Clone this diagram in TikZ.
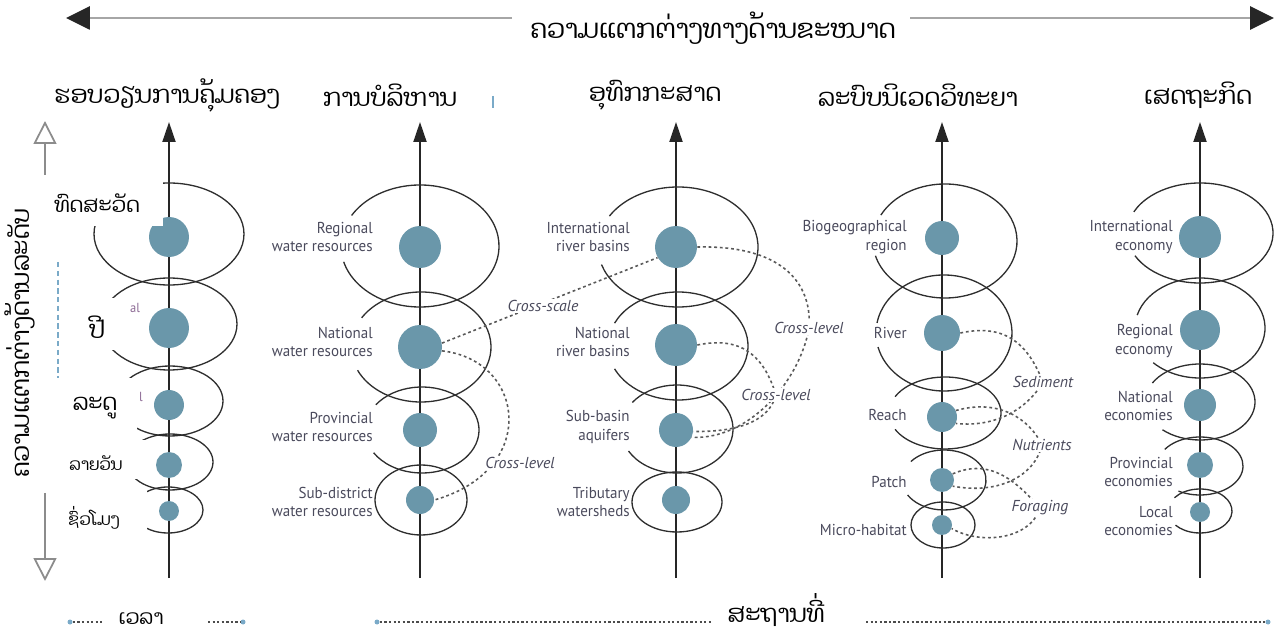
\documentclass[tikz,border=0pt]{standalone}
\usepackage{fontspec}
\setmainfont{PT Sans}
\newfontfamily\laofont[Script=Lao]{Dhyana}
\newfontfamily\lblfont[FakeStretch=0.95]{PT Sans}
\usetikzlibrary{arrows.meta}

\definecolor{lvlblue}{HTML}{6A97AA}
\definecolor{lblgray}{HTML}{4A4A5C}
\definecolor{ringgray}{HTML}{2E2E2E}
\definecolor{tickblue}{HTML}{7AAAC8}
\definecolor{fragpink}{HTML}{8C6A94}

\tikzset{
  lvl/.style={circle, fill=lvlblue, inner sep=0pt, minimum size=#1},
  ring/.style={ringgray, line width=0.75pt},
  lbl/.style={font=\lblfont\fontsize{9}{10.5}\selectfont, text=lblgray, align=right, anchor=east, inner sep=0pt},
  link/.style={black!65, line width=0.9pt, dash pattern=on 1.6pt off 1.6pt},
  linklbl/.style={font=\fontsize{9}{10}\selectfont\itshape, text=lblgray, fill=white, inner sep=1pt},
  laohead/.style={font=\laofont\fontsize{14}{17}\selectfont, inner sep=0pt},
  laolvl/.style={font=\laofont\fontsize{#1}{#1}\selectfont, inner sep=0pt},
  axis/.style={black!85, line width=1.1pt, -{Triangle[length=0.4cm, width=0.26cm]}},
  harr/.style={black!35, line width=1.6pt, -{Triangle[length=0.48cm, width=0.46cm, color=black!85]}},
  varr/.style={black!45, line width=1pt, -{Triangle[open, length=0.46cm, width=0.46cm, fill=white]}},
  tdot/.style={circle, fill=tickblue, inner sep=0pt, minimum size=0.1cm},
  tline/.style={black!70, line width=1.1pt, dash pattern=on 1.3pt off 1.3pt},
}

% open ellipse: centre, x radius, y radius, start angle, end angle
\newcommand\ringarc[5]{%
  \draw[ring] (#1) ++(#4:#2 and #3) arc[start angle=#4, end angle=#5, x radius=#2, y radius=#3];}

\begin{document}
\begin{tikzpicture}[x=0.02cm, y=-0.02cm]
  \useasboundingbox (0,0) rectangle (1288,634);

  % scale arrow and title
  \node[laohead, font=\laofont\fontsize{15}{18}\selectfont] (ttl) at (713,28) {ຄວາມແຕກຕ່າງທາງດ້ານຂະໜາດ};
  \coordinate (tlb) at (512,18);
  \coordinate (tl) at (66,18);
  \coordinate (trb) at (910,18);
  \coordinate (tr) at (1274,18);
  \draw[harr] (tlb) -- (tl);
  \draw[harr] (trb) -- (tr);

  % column heads
  \node[laohead] (h1) at (167,95) {ຮອບວຽນການຄຸ້ມຄອງ};
  \node[laohead] (h2) at (390,95) {ການບໍລິຫານ};
  \node[laohead] (h3) at (655,95) {ອຸທົກກະສາດ};
  \node[laohead] (h4) at (918,95) {ລະບົບນິເວດວິທະຍາ};
  \node[laohead] (h5) at (1198,95) {ເສດຖະກິດ};
  \draw[tickblue, line width=0.8pt] (493,96) -- (493,108);

  % level axes
  \foreach \n/\x in {1/169, 2/420, 3/676, 4/942, 5/1200} {
    \coordinate (a\n b) at (\x,578);
    \coordinate (a\n t) at (\x,122);
    \draw[axis] (a\n b) -- (a\n t);
  }

  % rings
  \draw[ring] (169,234) ellipse[x radius=75, y radius=51];
  \draw[ring] (169,324) ellipse[x radius=68, y radius=46];
  \draw[ring] (170,401) ellipse[x radius=53, y radius=35];
  \draw[ring] (170,462) ellipse[x radius=43, y radius=28];
  \draw[ring] (168,510) ellipse[x radius=35, y radius=23];

  \ringarc{420,246}{79}{61}{210}{525}
  \ringarc{421,347}{70}{55}{212}{515}
  \ringarc{422,430}{57}{43}{216}{508}
  \draw[ring] (421,500) ellipse[x radius=46, y radius=35];

  \ringarc{678,247}{80}{60}{211}{523}
  \ringarc{678,346}{70}{54}{205}{515}
  \ringarc{677,429}{56}{44}{217}{510}
  \draw[ring] (677,502) ellipse[x radius=45, y radius=30];

  \ringarc{945,241}{72}{57}{207}{525}
  \ringarc{944,333}{68}{58}{190}{526}
  \ringarc{945,413}{56}{36}{207}{513}
  \ringarc{944,480}{42}{30}{218}{510}
  \draw[ring] (943,525) ellipse[x radius=32, y radius=23];

  \ringarc{1200,233}{73}{50}{205}{513}
  \ringarc{1200,328}{65}{50}{195}{496}
  \ringarc{1200,402}{55}{38}{210}{493}
  \ringarc{1200,466}{43}{29}{215}{480}
  \ringarc{1200,511}{32}{22}{217}{500}

  % levels
  \node[lvl=0.8cm] (c11) at (169,237) {};
  \node[lvl=0.8cm] (c12) at (169,328) {};
  \node[lvl=0.6cm] (c13) at (169,405) {};
  \node[lvl=0.52cm] (c14) at (169,465) {};
  \node[lvl=0.4cm] (c15) at (169,511) {};

  \node[lvl=0.84cm] (c21) at (420,247) {};
  \node[lvl=0.88cm] (c22) at (420,347) {};
  \node[lvl=0.68cm] (c23) at (420,430) {};
  \node[lvl=0.56cm] (c24) at (420,500) {};

  \node[lvl=0.84cm] (c31) at (676,247) {};
  \node[lvl=0.84cm] (c32) at (676,345) {};
  \node[lvl=0.68cm] (c33) at (676,430) {};
  \node[lvl=0.56cm] (c34) at (676,500) {};

  \node[lvl=0.68cm] (c41) at (942,238) {};
  \node[lvl=0.72cm] (c42) at (942,333) {};
  \node[lvl=0.6cm] (c43) at (942,417) {};
  \node[lvl=0.48cm] (c44) at (942,480) {};
  \node[lvl=0.4cm] (c45) at (942,525) {};

  \node[lvl=0.84cm] (c51) at (1200,237) {};
  \node[lvl=0.8cm] (c52) at (1200,330) {};
  \node[lvl=0.64cm] (c53) at (1200,405) {};
  \node[lvl=0.52cm] (c54) at (1200,465) {};
  \node[lvl=0.4cm] (c55) at (1200,512) {};

  % time labels pasted over the first column
  \fill[white] (50,178) rectangle (163,226);
  \fill[white] (50,298) rectangle (126,350);
  \fill[white] (50,378) rectangle (137,432);
  \fill[white] (50,440) rectangle (150,479);
  \fill[white] (50,488) rectangle (147,531);
  \node[laolvl=12] (t1) at (97,203) {ທົດສະວັດ};
  \node[laolvl=14] (t2) at (97,327) {ປີ};
  \node[laolvl=13] (t3) at (95,408) {ລະດູ};
  \node[laolvl=9.5] (t4) at (96,463) {ລາຍວັນ};
  \node[laolvl=9.5] (t5) at (94,518) {ຊົ່ວໂມງ};
  \node[font=\lblfont\fontsize{7.5}{8}\selectfont, text=fragpink, inner sep=0pt] (fr1) at (135,308) {al};
  \node[font=\lblfont\fontsize{7.5}{8}\selectfont, text=fragpink, inner sep=0pt] (fr2) at (141,397) {l};
  \draw[tickblue, line width=0.6pt, dash pattern=on 3pt off 2pt] (58,262) -- (58,378);

  % level arrow
  \node[laohead] (vlab) at (20,343) [rotate=90] {ຄວາມແຕກຕ່າງດ້ານລະດັບ};
  \coordinate (v1) at (45,175);
  \coordinate (v1t) at (45,121);
  \coordinate (v2) at (45,493);
  \coordinate (v2b) at (45,581);
  \draw[varr] (v1) -- (v1t);
  \draw[varr] (v2) -- (v2b);

  % unit labels
  \node[lbl] (l21) at (373,237) {Regional\\water resources};
  \node[lbl] (l22) at (373,342) {National\\water resources};
  \node[lbl] (l23) at (373,427) {Provincial\\water resources};
  \node[lbl] (l24) at (373,502) {Sub-district\\water resources};

  \node[lbl] (l31) at (630,237) {International\\river basins};
  \node[lbl] (l32) at (630,342) {National\\river basins};
  \node[lbl] (l33) at (630,427) {Sub-basin\\aquifers};
  \node[lbl] (l34) at (630,502) {Tributary\\watersheds};

  \node[lbl] (l41) at (907,237) {Biogeographical\\region};
  \node[lbl] (l42) at (907,333) {River};
  \node[lbl] (l43) at (907,415) {Reach};
  \node[lbl] (l44) at (907,482) {Patch};
  \node[lbl] (l45) at (907,530) {Micro-habitat};

  \node[lbl] (l51) at (1173,237) {International\\economy};
  \node[lbl] (l52) at (1173,341) {Regional\\economy};
  \node[lbl] (l53) at (1173,406) {National\\economies};
  \node[lbl] (l54) at (1173,472) {Provincial\\economies};
  \node[lbl] (l55) at (1173,521) {Local\\economies};

  % cross-scale and cross-level links
  \coordinate (xs) at (543,306);
  \coordinate (xl1) at (520,463);
  \coordinate (xl2) at (809,328);
  \coordinate (xl3) at (776,395);
  \coordinate (sed) at (1043,382);
  \coordinate (nut) at (1042,445);
  \coordinate (for) at (1040,508);

  \draw[link] (c22.10) -- (c31.210);
  \draw[link] (c22.-10) .. controls (525,360) and (540,470) .. (c24.east);
  \draw[link] (c31.east) .. controls (790,245) and (812,290) .. (xl2)
    .. controls (800,380) and (750,440) .. (c33.-25);
  \draw[link] (c32.east) .. controls (745,335) and (765,360) .. (xl3)
    .. controls (768,425) and (730,432) .. (c33.-5);
  \draw[link] (c42.east) .. controls (1010,322) and (1030,350) .. (sed)
    .. controls (1030,405) and (1000,428) .. (c43.-25);
  \draw[link] (c43.25) .. controls (1000,398) and (1030,420) .. (nut)
    .. controls (1035,475) and (1000,495) .. (c44.-30);
  \draw[link] (c44.30) .. controls (990,458) and (1015,480) .. (for)
    .. controls (1030,540) and (980,545) .. (c45.-20);

  \node[linklbl] (txs) at (xs) {Cross-scale};
  \node[linklbl] (txl1) at (xl1) {Cross-level};
  \node[linklbl] (txl2) at (xl2) {Cross-level};
  \node[linklbl] (txl3) at (xl3) {Cross-level};
  \node[linklbl] (tsed) at (sed) {Sediment};
  \node[linklbl] (tnut) at (nut) {Nutrients};
  \node[linklbl] (tfor) at (for) {Foraging};

  % time and space
  \node[tdot] (b1) at (70,622) {};
  \node[tdot] (b2) at (243,622) {};
  \node[tdot] (b3) at (377,622) {};
  \node[tdot] (b4) at (1268,622) {};
  \node[laolvl=11.5] (tm) at (141,619) {ເວລາ};
  \node[laolvl=14] (pl) at (776,610) {ສະຖານທີ່};
  \coordinate (b1e) at (102,622);
  \coordinate (b2s) at (208,622);
  \coordinate (b3e) at (713,622);
  \coordinate (b4s) at (866,622);
  \draw[tline] (b1) -- (b1e);
  \draw[tline] (b2s) -- (b2);
  \draw[tline] (b3) -- (b3e);
  \draw[tline] (b4s) -- (b4);
\end{tikzpicture}
\end{document}
